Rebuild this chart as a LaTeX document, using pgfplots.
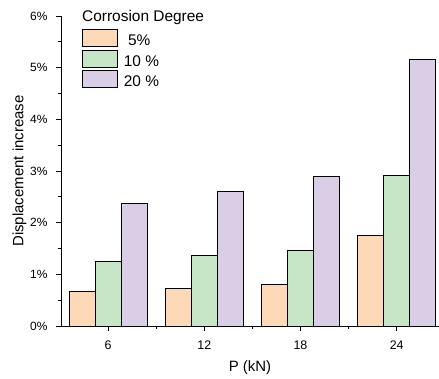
\documentclass[border=0pt]{standalone}
\usepackage{fontspec}
\setmainfont{Liberation Sans}
\usepackage{pgfplots}
\pgfplotsset{compat=1.18}
\definecolor{cA}{HTML}{FDD9B7}
\definecolor{cB}{HTML}{C7E6C7}
\definecolor{cC}{HTML}{DACDE6}
\begin{document}
\begin{tikzpicture}
\begin{axis}[
  name=ax,
  scale only axis, width=378bp, height=310bp,
  xmin=-0.49, xmax=3.44, ymin=0, ymax=6,
  axis lines*=left,
  axis line style={line width=0.9bp},
  every tick/.style={black, line width=0.8bp},
  tick align=outside,
  major tick length=5bp, minor tick length=3bp,
  xtick={0,1,2,3}, xticklabels={6,12,18,24},
  minor xtick={0.5,1.5,2.5},
  ytick={0,1,2,3,4,5,6}, minor ytick={0.5,1.5,2.5,3.5,4.5,5.5},
  yticklabel={\pgfmathprintnumber{\tick}\%},
  /pgf/number format/assume math mode=true,
  yticklabel style={xshift=-5bp, font=\fontsize{12}{14}\selectfont},
  xticklabel style={yshift=-6bp, font=\fontsize{12.5}{14}\selectfont},
  xlabel={P (kN)}, ylabel={Displacement increase},
  label style={font=\fontsize{15}{17}\selectfont},
  xlabel style={at={(axis description cs:0.5,0)}, anchor=center, yshift=-42bp},
  ylabel style={at={(axis description cs:0,0.5)}, anchor=center, yshift=41.5bp},
  ybar, bar width=0.27, bar shift=0pt,
  legend style={draw=none, fill=none, at={(0.0556,0.958)}, anchor=north west,
    font=\fontsize{15.5}{17}\selectfont, row sep=3bp, inner sep=0pt,
    nodes={inner sep=0pt, text height=16bp, text depth=1bp},
    /tikz/every odd column/.style={column sep=6bp}},
  legend cell align=left,
  legend image code/.code={\draw[#1, draw=black, line width=0.6bp] (0bp,-8.5bp) rectangle (35bp,8.5bp);},
  clip=false,
]
\addplot[fill=cA, draw=black, line width=0.6bp] coordinates {(-0.27,0.68) (0.73,0.73) (1.73,0.80) (2.73,1.75)};
\addplot[fill=cB, draw=black, line width=0.6bp] coordinates {(0,1.26) (1,1.36) (2,1.47) (3,2.91)};
\addplot[fill=cC, draw=black, line width=0.6bp] coordinates {(0.27,2.37) (1.27,2.60) (2.27,2.89) (3.27,5.17)};
\legend{\ 5\%, 10 \%, 20 \%}
\node[anchor=base west, inner sep=0pt, font=\fontsize{15.5}{17}\selectfont] at (rel axis cs:0.0556,1.0) [yshift=-6bp] {Corrosion Degree};
\end{axis}
\pgfresetboundingbox
\path[use as bounding box] ([shift={(-61bp,-53bp)}]ax.south west) rectangle ([shift={(0bp,16bp)}]ax.north east);
\end{tikzpicture}
\end{document}
